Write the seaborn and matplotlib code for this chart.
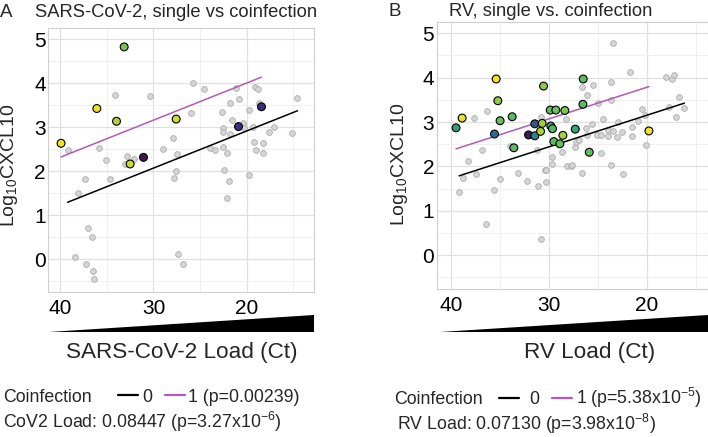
import numpy as np
import pandas as pd
import seaborn as sns
import matplotlib
matplotlib.use('Agg')
import matplotlib.pyplot as plt
from matplotlib.lines import Line2D

# ---- data ----
# panel A: SARS-CoV-2 single infections (grey)
cov_single_ct = [39.2, 38.07, 37.29, 37.0, 36.57, 38.36, 37.21, 36.5, 36.36, 35.82, 35.04, 34.64,
                 34.14, 32.86, 33.0, 32.04, 30.32, 28.96, 27.93, 27.43, 27.54, 27.75, 27.36, 26.82,
                 25.96, 25.79, 24.61, 23.89, 23.39, 22.64, 22.5, 22.5, 22.57, 22.43, 22.11, 21.93,
                 22.11, 21.82, 21.57, 21.75, 21.11, 20.79, 20.46, 20.25, 19.79, 19.75, 19.36, 19.18,
                 19.0, 19.07, 18.79, 18.71, 18.25, 18.25, 17.64, 17.11, 15.14, 14.57]
cov_single_cxcl = [2.48, 1.52, 1.83, 0.71, 0.52, 0.05, -0.11, -0.26, -0.45, 2.53, 2.27, 1.82,
                   3.73, 2.35, 2.17, 2.28, 3.71, 2.52, 2.75, 2.39, 2.01, 1.84, 0.12, -0.11,
                   3.33, 4.02, 3.88, 2.54, 2.49, 3.35, 2.99, 2.89, 2.55, 2.03, 2.42, 1.79,
                   1.40, 3.56, 3.17, 2.85, 3.89, 3.64, 3.09, 2.98, 3.39, 1.92, 3.02, 2.68,
                   2.49, 3.91, 3.88, 3.55, 2.64, 2.43, 2.89, 3.01, 2.88, 3.67]
# panel A: coinfections (coloured)
cov_co_ct = [39.9, 36.07, 33.14, 33.96, 32.5, 31.07, 27.57, 20.89, 18.43]
cov_co_cxcl = [2.64, 3.43, 4.83, 3.14, 2.17, 2.32, 3.19, 3.02, 3.47]
cov_co_color = ["#f2e227", "#f0e128", "#7fbf56", "#b3cf3c", "#c8dc2a", "#3b1a55", "#cfdb2d",
                "#3d2e7c", "#3b2e7e"]

# panel B: RV single infections (grey)
rv_single_ct = [39.15, 38.78, 38.2, 37.62, 37.38, 36.77, 36.33, 36.36, 35.61, 34.93, 33.91, 33.16,
                32.21, 31.22, 31.09, 30.85, 30.78, 30.41, 30.27, 30.34, 29.69, 29.66, 28.64, 28.23,
                28.1, 27.72, 27.62, 27.38, 27.28, 26.97, 26.67, 26.6, 26.12, 26.22, 26.09, 25.65,
                25.48, 25.0, 25.1, 24.73, 24.66, 24.46, 23.95, 23.98, 23.71, 23.64, 23.64, 23.47,
                23.5, 23.1, 23.0, 22.41, 22.52, 21.7, 21.56, 21.56, 20.88, 20.54, 20.2, 20.14,
                18.06, 17.48, 17.24, 17.72, 17.07, 16.77, 16.19]
rv_single_cxcl = [1.43, 1.75, 2.13, 3.09, 1.84, 2.36, 3.24, 0.71, 1.46, 1.71, 2.46, 1.85,
                  1.68, 2.37, 1.55, 3.12, 0.37, 1.91, 1.64, 1.91, 2.22, 2.06, 2.33, 3.06,
                  2.02, 2.02, 2.03, 2.43, 2.56, 2.60, 1.86, 3.78, 3.61, 2.86, 2.70, 2.96,
                  3.83, 3.43, 2.71, 2.30, 2.70, 3.06, 2.81, 2.68, 3.91, 3.49, 2.04, 4.77,
                  2.79, 2.67, 3.00, 1.83, 2.77, 4.12, 2.68, 2.89, 3.03, 3.30, 3.16, 2.49,
                  4.02, 3.96, 4.05, 3.33, 3.12, 3.57, 3.31]
# panel B: coinfections (coloured)
rv_co_ct = [39.46, 38.84, 35.37, 35.2, 35.54, 34.97, 33.74, 33.57, 32.07, 31.43, 31.43, 30.85,
            30.68, 30.54, 29.86, 29.8, 29.63, 29.49, 29.29, 28.88, 28.57, 28.37, 27.31, 26.5,
            26.53, 25.88, 19.8]
rv_co_cxcl = [2.87, 3.09, 3.97, 3.48, 2.73, 3.03, 3.12, 2.42, 2.71, 2.96, 2.69, 2.79,
              2.97, 3.81, 3.27, 2.91, 2.85, 2.56, 3.27, 2.51, 2.70, 3.26, 2.84, 3.97,
              3.40, 2.32, 2.80]
rv_co_color = ["#359c7a", "#e9e12b", "#f1e32a", "#93c84a", "#2c708e", "#6abf5c", "#5dbb5f",
               "#5ab864", "#3d1a5c", "#3b528b", "#23898e", "#a6d13c", "#9cce40", "#92c84a",
               "#5fbd60", "#3aa77a", "#55b866", "#5cbd5f", "#6cc05a", "#65bf5c", "#a8d23a",
               "#7cc553", "#38a47a", "#5eba5e", "#5eba5e", "#63bd5c", "#f2e22c"]

# model fits: common slope, intercept per coinfection group
cov_slope = -0.08447
cov_intercepts = {0: 4.61, 1: 5.70}
rv_slope = -0.07130
rv_intercepts = {0: 4.58, 1: 5.21}

# ---- style ----
sns.set_theme(style="white")
plt.rcParams['font.family'] = ['Liberation Sans', 'DejaVu Sans']
plt.rcParams['mathtext.default'] = 'regular'

W, H = 708, 437
fig = plt.figure(figsize=(W / 100, H / 100), dpi=100)

PURPLE = "#b25ab8"
GRID = "#e0e0e0"


def px(x0, y0, x1, y1):
    return [x0 / W, 1 - y1 / H, (x1 - x0) / W, (y1 - y0) / H]


def panel(rect, single_ct, single_y, co_ct, co_y, co_col, slope, icpt, xlim, ylim, ypad):
    ax = fig.add_axes(rect)
    grey = pd.DataFrame({"ct": single_ct, "y": single_y})
    co = pd.DataFrame({"ct": co_ct, "y": co_y, "col": co_col})
    sns.scatterplot(data=grey, x="ct", y="y", color="#d6d6d6", edgecolor="#ababab",
                    s=17, linewidth=0.6, ax=ax, zorder=2)
    for grp, df in [(0, grey), (1, co)]:
        xs = np.array([df["ct"].max(), df["ct"].min()])
        sns.lineplot(x=xs, y=icpt[grp] + slope * xs, color="black" if grp == 0 else PURPLE,
                     lw=1.1, ax=ax, zorder=2.5)
    sns.scatterplot(data=co, x="ct", y="y", hue="col", palette={c: c for c in co_col},
                    edgecolor="black", s=32, linewidth=0.8, legend=False, ax=ax, zorder=3)
    ax.set_xlim(*xlim)
    ax.set_ylim(*ylim)
    ax.set_xticks([40, 30, 20])
    ax.set_xticks([35, 25, 15], minor=True)
    ax.set_yticks(range(0, 6))
    ax.set_yticks(np.arange(-0.5, 5.0, 1.0), minor=True)
    ax.grid(True, which="major", color=GRID, lw=0.9)
    ax.grid(True, which="minor", color="#eeeeee", lw=0.6)
    ax.set_axisbelow(True)
    for s in ax.spines.values():
        s.set_color("#cfcfcf")
        s.set_linewidth(0.8)
    ax.tick_params(axis="both", which="both", length=0, labelsize=15, labelcolor="black")
    ax.tick_params(axis="x", pad=5)
    ax.tick_params(axis="y", pad=ypad)
    ax.set_xlabel("")
    ax.set_ylabel("")
    return ax


panel(px(48, 28, 314, 292), cov_single_ct, cov_single_cxcl, cov_co_ct, cov_co_cxcl,
      cov_co_color, cov_slope, cov_intercepts, (41.3, 12.8), (-0.74, 5.26), 1.5)
panel(px(437, 21.7, 708, 289), rv_single_ct, rv_single_cxcl, rv_co_ct, rv_co_cxcl,
      rv_co_color, rv_slope, rv_intercepts, (41.4, 13.78), (-0.76, 5.26), 2)

# load wedges under the x axes
for x0, x1 in [(49, 314), (440, 708)]:
    aw = fig.add_axes(px(x0, 315, x1, 332))
    aw.fill([0, 1, 1], [0, 0, 1], color="black", lw=0)
    aw.set_xlim(0, 1)
    aw.set_ylim(0, 1)
    aw.axis("off")


def ftext(x, y, s, **kw):
    fig.text(x / W, 1 - y / H, s, **kw)


# titles
ftext(0, 17, "A", fontsize=13.5, va="baseline")
ftext(35, 17, "SARS-CoV-2, single vs coinfection", fontsize=13.2, va="baseline")
ftext(389, 16, "B", fontsize=13.5, va="baseline")
ftext(449, 16, "RV, single vs. coinfection", fontsize=13.2, va="baseline")

# y labels
ftext(10, 165, r"Log$_{10}$CXCL10", fontsize=14, rotation=90, ha="center", va="center")
ftext(399, 164, r"Log$_{10}$CXCL10", fontsize=14, rotation=90, ha="center", va="center")

# x labels
ftext(181.5, 358, "SARS-CoV-2 Load (Ct)", fontsize=16.2, ha="center", va="baseline")
ftext(590, 358, "RV Load (Ct)", fontsize=16.2, ha="center", va="baseline")

# bottom model legends
LS = 12.8
ftext(3, 401.5, "Coinfection", fontsize=LS, va="baseline")
fig.add_artist(Line2D([118 / W, 138 / W], [1 - 395 / H] * 2, color="black", lw=1.6))
ftext(142, 401.5, "0", fontsize=LS, va="baseline")
fig.add_artist(Line2D([165 / W, 185 / W], [1 - 395 / H] * 2, color=PURPLE, lw=1.6))
ftext(188, 401.5, "1 (p=0.00239)", fontsize=LS, va="baseline")
ftext(3, 428, r"CoV2 Load: 0.08447 (p=3.27x10$^{-6}$)", fontsize=LS, va="baseline")

ftext(394, 404, "Coinfection", fontsize=LS, va="baseline")
fig.add_artist(Line2D([499 / W, 519 / W], [1 - 397.5 / H] * 2, color="black", lw=1.6))
ftext(529, 404, "0", fontsize=LS, va="baseline")
fig.add_artist(Line2D([552 / W, 572 / W], [1 - 397.5 / H] * 2, color=PURPLE, lw=1.6))
ftext(576, 404, r"1 (p=5.38x10$^{-5}$)", fontsize=LS, va="baseline")
ftext(397, 430, r"RV Load: 0.07130 (p=3.98x10$^{-8}$)", fontsize=LS, va="baseline")

fig.savefig("out.png", dpi=100)
